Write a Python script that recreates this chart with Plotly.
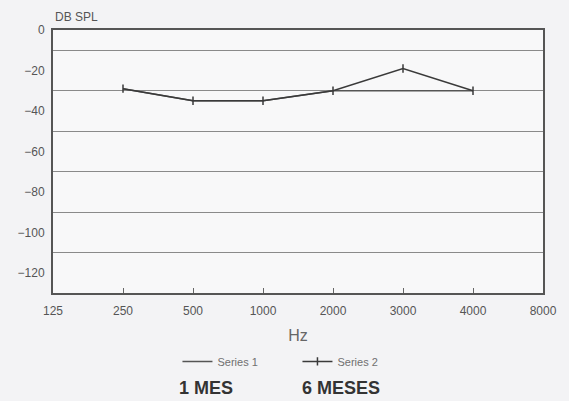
import plotly.graph_objects as go

# Frequencies (Hz) shown on the category axis
frequencies = ["125", "250", "500", "1000", "2000", "3000", "4000", "8000"]

# Threshold readings in dB SPL
series1_freq = ["250", "500", "1000", "2000", "3000", "4000"]
series1_db = [-29, -35, -35, -30, -30, -30]

series2_freq = ["250", "500", "1000", "2000", "3000", "4000"]
series2_db = [-29, -35, -35, -30, -19, -30]

y_ticks = [0, -20, -40, -60, -80, -100, -120]

line_color = "#3a3a3a"
text_color = "#4a4a4a"

fig = go.Figure()

fig.add_trace(go.Scatter(
    x=series1_freq, y=series1_db, name="Series 1", mode="lines",
    line=dict(color="#555555", width=1.5),
))
fig.add_trace(go.Scatter(
    x=series2_freq, y=series2_db, name="Series 2", mode="lines+markers",
    line=dict(color=line_color, width=1.5),
    marker=dict(symbol="line-ns", size=6, line=dict(color=line_color, width=1.5)),
))

fig.update_layout(
    width=569, height=401,
    margin=dict(l=53, r=22, t=30, b=108),
    paper_bgcolor="#f3f3f5",
    plot_bgcolor="#f8f8f9",
    font=dict(family="Liberation Sans, Arial, sans-serif", color=text_color),
    showlegend=True,
    legend=dict(
        orientation="h", x=0.254, xanchor="left", y=-0.205, yanchor="top",
        font=dict(size=11, color="#707070"), bgcolor="rgba(0,0,0,0)",
        entrywidth=75, entrywidthmode="pixels", tracegroupgap=0,
    ),
    xaxis=dict(
        type="category", categoryorder="array", categoryarray=frequencies,
        range=[0, len(frequencies) - 1],
        tickvals=frequencies, ticktext=frequencies,
        showgrid=False, zeroline=False,
        showline=True, linecolor="#555555", linewidth=2, mirror=True,
        ticks="inside", ticklen=5, tickcolor="#666666",
        ticklabelstandoff=6,
        tickfont=dict(size=12, color="#555555"),
        title=dict(text="Hz", font=dict(size=16, color="#666666"), standoff=12),
    ),
    yaxis=dict(
        range=[-130, 0], tickvals=y_ticks,
        showgrid=False, zeroline=False,
        showline=True, linecolor="#555555", linewidth=2, mirror=True,
        ticks="", ticklabelstandoff=4,
        tickfont=dict(size=12, color="#555555"),
        minor=dict(tick0=-10, dtick=20, showgrid=True, gridcolor="#8a8a8a", gridwidth=1.2),
    ),
    annotations=[
        dict(text="DB SPL", xref="paper", yref="paper", x=0.0, y=1.015,
             xanchor="left", yanchor="bottom", showarrow=False,
             font=dict(size=12, color="#555555")),
        dict(text="<b>1 MES</b>", xref="paper", yref="paper", x=0.253, y=-0.361,
             xanchor="left", yanchor="middle", showarrow=False,
             font=dict(size=18, color="#333333")),
        dict(text="<b>6 MESES</b>", xref="paper", yref="paper", x=0.504, y=-0.361,
             xanchor="left", yanchor="middle", showarrow=False,
             font=dict(size=18, color="#333333")),
    ],
)

fig.write_html("out.html")
